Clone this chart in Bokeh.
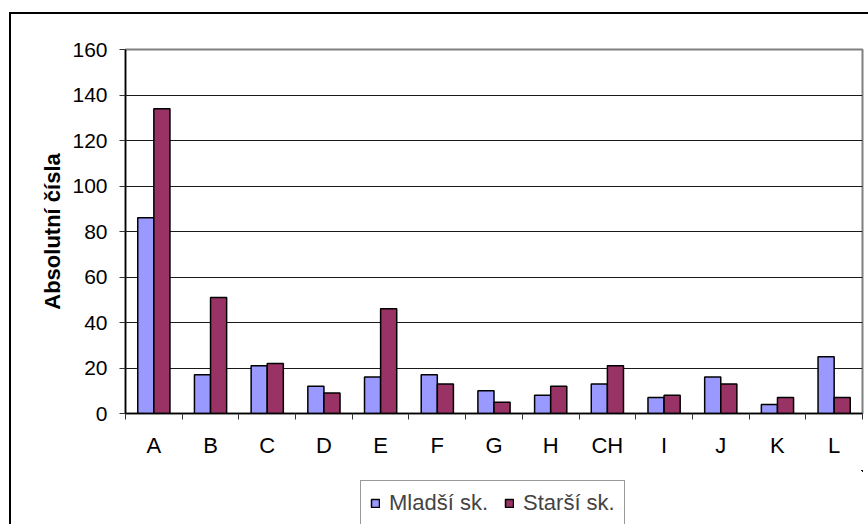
from bokeh.plotting import figure
from bokeh.layouts import column
from bokeh.models import ColumnDataSource, Range1d, FixedTicker, Legend, LegendItem
from bokeh.transform import dodge
from bokeh.embed import file_html
from bokeh.resources import INLINE

categories = ["A", "B", "C", "D", "E", "F", "G", "H", "CH", "I", "J", "K", "L"]
mladsi = [86, 17, 21, 12, 16, 17, 10, 8, 13, 7, 16, 4, 25]
starsi = [134, 51, 22, 9, 46, 13, 5, 12, 21, 8, 13, 7, 7]
series_names = ["Mladší sk.", "Starší sk."]
series_colors = ["#9999FF", "#993366"]
y_ticks = [0, 20, 40, 60, 80, 100, 120, 140, 160]
y_title = "Absolutní čísla"

FONT = "Liberation Sans"

xpos = [i + 0.5 for i in range(len(categories))]
source = ColumnDataSource(dict(x=xpos, cat=categories, m=mladsi, s=starsi))

p = figure(width=868, height=470, output_backend="svg", toolbar_location=None,
           x_range=Range1d(0, len(categories)), y_range=Range1d(0, 160),
           min_border_left=125, min_border_right=6, min_border_top=49, min_border_bottom=57)

BW = 0.284
bar_style = dict(width=BW, source=source, line_color="black", line_width=1.5)
p.vbar(x=dodge("x", -BW / 2, range=p.x_range), top="m", fill_color=series_colors[0], **bar_style)
p.vbar(x=dodge("x", BW / 2, range=p.x_range), top="s", fill_color=series_colors[1], **bar_style)

# frame
p.outline_line_color = "#808080"
p.outline_line_width = 2
p.background_fill_color = "white"
p.border_fill_alpha = 0

# grid
p.xgrid.grid_line_color = None
p.ygrid.grid_line_color = "#1a1a1a"
p.ygrid.grid_line_width = 1
p.ygrid.ticker = FixedTicker(ticks=y_ticks)

# y axis
ya = p.yaxis[0]
ya.ticker = FixedTicker(ticks=y_ticks)
ya.axis_line_color = "black"
ya.axis_line_width = 1.5
ya.major_tick_line_color = "#333333"
ya.major_tick_out = 6
ya.major_tick_in = 0
ya.minor_tick_line_color = None
ya.major_label_text_font = FONT
ya.major_label_text_font_size = "21px"
ya.major_label_text_color = "black"
ya.major_label_standoff = 12
ya.axis_label = y_title
ya.axis_label_text_font = FONT
ya.axis_label_text_font_size = "22px"
ya.axis_label_text_font_style = "bold"
ya.axis_label_text_color = "black"
ya.axis_label_standoff = 4

# x axis
xa = p.xaxis[0]
xa.ticker = FixedTicker(ticks=xpos, minor_ticks=list(range(len(categories) + 1)))
xa.major_label_overrides = {x: c for x, c in zip(xpos, categories)}
xa.axis_line_color = "black"
xa.axis_line_width = 1.5
xa.major_tick_line_color = None
xa.major_tick_out = 6
xa.minor_tick_line_color = "#333333"
xa.minor_tick_out = 6
xa.minor_tick_in = 0
xa.major_label_text_font = FONT
xa.major_label_text_font_size = "22px"
xa.major_label_text_color = "black"
xa.major_label_standoff = 13

# legend strip below the chart (its bars lie outside its ranges; only the legend shows)
p2 = figure(width=868, height=54, output_backend="svg", toolbar_location=None,
            x_axis_location=None, y_axis_location=None,
            x_range=Range1d(-100, -99), y_range=Range1d(-100, -99),
            min_border_left=0, min_border_right=0, min_border_top=0, min_border_bottom=0)
p2.xgrid.grid_line_color = None
p2.ygrid.grid_line_color = None
p2.outline_line_color = None
p2.background_fill_alpha = 0
p2.border_fill_alpha = 0
lr1 = p2.vbar(x="x", top="m", fill_color=series_colors[0], **bar_style)
lr2 = p2.vbar(x="x", top="s", fill_color=series_colors[1], **bar_style)

legend = Legend(items=[LegendItem(label=series_names[0], renderers=[lr1]),
                       LegendItem(label=series_names[1], renderers=[lr2])],
                location=(235, -2), orientation="horizontal",
                label_text_font=FONT, label_text_font_size="22px",
                glyph_width=10, glyph_height=10, padding=9, spacing=16,
                label_standoff=9, margin=0,
                border_line_color="#333333", border_line_width=1.5,
                background_fill_color="white", background_fill_alpha=1)
p2.add_layout(legend, "center")

layout = column(p, p2, spacing=0, styles={
    "background-color": "white",
    "background-image": "linear-gradient(#000, #000), linear-gradient(#000, #000)",
    "background-size": "2px 100%, 100% 2px",
    "background-position": "9px 12px, 9px 12px",
    "background-repeat": "no-repeat",
})

open("out.html", "w").write(file_html(layout, INLINE))
